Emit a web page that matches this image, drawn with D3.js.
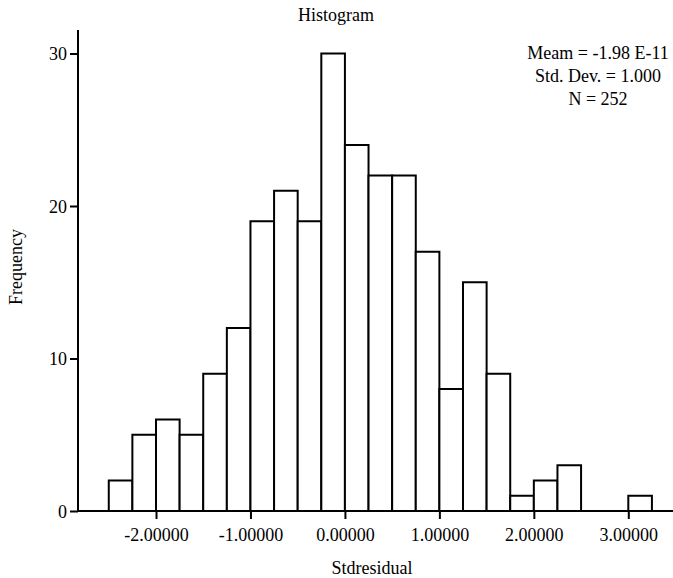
<!DOCTYPE html>
<html>
<head>
<meta charset="utf-8">
<script src="https://cdn.jsdelivr.net/npm/d3@7"></script>
<style>
  body { margin: 0; background: #fff; }
  text { font-family: "Liberation Serif", "Times New Roman", serif; fill: #000; }
</style>
</head>
<body>
<svg id="chart" width="673" height="578"></svg>
<script>
// bins of the standardized residual, width 0.25, given by their lower edge
var binLow = [-2.5, -2.25, -2, -1.75, -1.5, -1.25, -1, -0.75, -0.5, -0.25,
              0, 0.25, 0.5, 0.75, 1, 1.25, 1.5, 1.75, 2, 2.25, 2.5, 2.75, 3];
var counts = [2, 5, 6, 5, 9, 12, 19, 21, 19, 30,
              24, 22, 22, 17, 8, 15, 9, 1, 2, 3, 0, 0, 1];
var binWidth = 0.25;
var xTicks = [-2, -1, 0, 1, 2, 3];
var yTicks = [0, 10, 20, 30];
var stats = ["Meam = -1.98 E-11", "Std. Dev. = 1.000", "N = 252"];

var svg = d3.select("#chart");

var x = d3.scaleLinear().domain([-2, 3]).range([156, 628.3]);
var y = d3.scaleLinear().domain([0, 30]).range([511, 53.5]);

var fmt = d3.format(".5f");

var bins = binLow.map(function(d, i) { return {lo: d, n: counts[i]}; })
  .filter(function(d) { return d.n > 0; });

// bars
svg.append("g").attr("class", "bars")
  .selectAll("rect")
  .data(bins)
  .enter().append("rect")
  .attr("x", function(d) { return x(d.lo); })
  .attr("y", function(d) { return y(d.n); })
  .attr("width", function(d) { return x(d.lo + binWidth) - x(d.lo); })
  .attr("height", function(d) { return y(0) - y(d.n); })
  .attr("fill", "#fff")
  .attr("stroke", "#000")
  .attr("stroke-width", 2);

// y axis
var yAxis = svg.append("g")
  .attr("transform", "translate(78,0)")
  .call(d3.axisLeft(y).tickValues(yTicks).tickSize(8).tickPadding(3).tickSizeOuter(0));
yAxis.select(".domain").remove();
yAxis.append("line")
  .attr("x1", 0).attr("x2", 0).attr("y1", 30).attr("y2", y(0) + 1)
  .attr("stroke", "#000").attr("stroke-width", 2);
yAxis.selectAll(".tick line").attr("stroke-width", 2);
yAxis.selectAll("text").style("font-size", "18px").attr("dy", "0.34em");

// x axis
var xAxis = svg.append("g")
  .attr("transform", "translate(0," + y(0) + ")")
  .call(d3.axisBottom(x).tickValues(xTicks)
    .tickFormat(function(d) { return fmt(d).replace("\u2212", "-"); })
    .tickSize(8).tickPadding(9).tickSizeOuter(0));
xAxis.select(".domain").remove();
xAxis.append("line")
  .attr("x1", 77).attr("x2", 673).attr("y1", 0).attr("y2", 0)
  .attr("stroke", "#000").attr("stroke-width", 2);
xAxis.selectAll(".tick line").attr("stroke-width", 2);
xAxis.selectAll("text").style("font-size", "18px");

// titles
svg.append("text")
  .attr("x", 336).attr("y", 21)
  .attr("text-anchor", "middle")
  .style("font-size", "18px")
  .text("Histogram");

svg.append("text")
  .attr("x", 372).attr("y", 574)
  .attr("text-anchor", "middle")
  .style("font-size", "18px")
  .text("Stdresidual");

svg.append("text")
  .attr("transform", "translate(22,267) rotate(-90)")
  .attr("text-anchor", "middle")
  .style("font-size", "18px")
  .text("Frequency");

svg.append("g").selectAll("text")
  .data(stats)
  .enter().append("text")
  .attr("x", 598)
  .attr("y", function(d, i) { return 59 + i * 23; })
  .attr("text-anchor", "middle")
  .style("font-size", "18px")
  .text(function(d) { return d; });
</script>
</body>
</html>
